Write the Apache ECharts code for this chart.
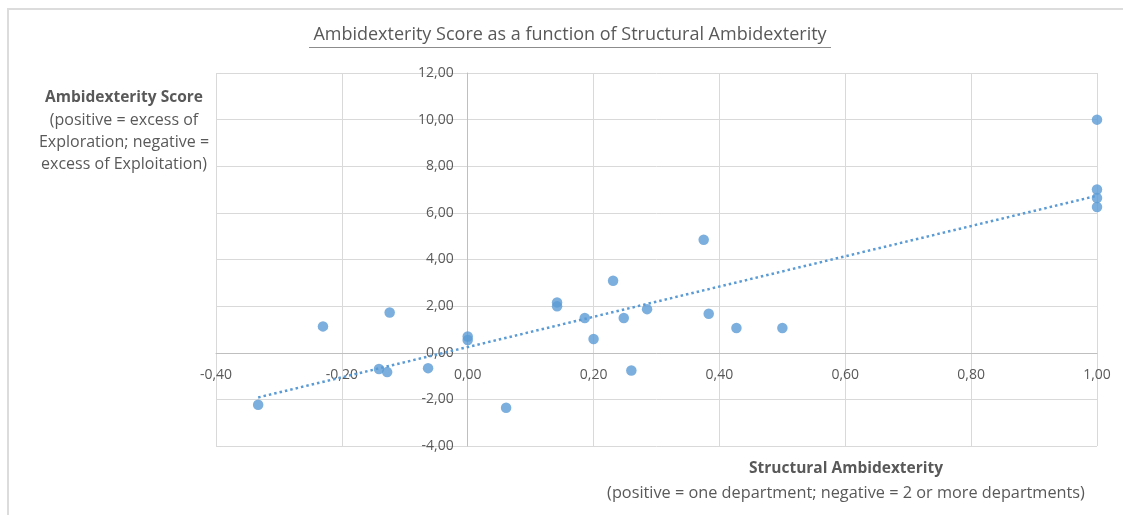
<!DOCTYPE html>
<html>
<head>
<meta charset="utf-8">
<script src="https://cdn.jsdelivr.net/npm/echarts@6/dist/echarts.min.js"></script>
<style>
  html, body { margin: 0; padding: 0; background: #ffffff; }
  #chart { width: 1123px; height: 515px; }
</style>
</head>
<body>
<div id="chart"></div>
<script>
// Structural ambidexterity (x) vs. ambidexterity score (y), one point per firm
const structural = [
  -0.333, -0.230, -0.124, -0.141, -0.128, -0.063, 0.000, 0.000, 0.061,
  0.142, 0.142, 0.186, 0.200, 0.231, 0.248, 0.260, 0.285, 0.375, 0.383,
  0.427, 0.500, 1.000, 1.000, 1.000, 1.000
];
const score = [
  -2.23, 1.13, 1.73, -0.70, -0.83, -0.66, 0.55, 0.70, -2.36,
  2.16, 1.99, 1.49, 0.59, 3.09, 1.49, -0.76, 1.87, 4.85, 1.67,
  1.06, 1.06, 10.00, 7.00, 6.64, 6.25
];

const titleText = 'Ambidexterity Score as a function of Structural Ambidexterity';
const yNameLines = ['Ambidexterity Score', '(positive = excess of', 'Exploration; negative =', 'excess of Exploitation)'];
const xNameLines = ['Structural Ambidexterity', '(positive = one department; negative = 2 or more departments)'];

const points = structural.map((x, i) => [x, score[i]]);

// Ordinary least-squares linear trend across the observed x range
function linearTrend(xs, ys) {
  const n = xs.length;
  const mx = xs.reduce((a, b) => a + b, 0) / n;
  const my = ys.reduce((a, b) => a + b, 0) / n;
  let sxy = 0, sxx = 0;
  for (let i = 0; i < n; i++) {
    sxy += (xs[i] - mx) * (ys[i] - my);
    sxx += (xs[i] - mx) * (xs[i] - mx);
  }
  const slope = sxy / sxx;
  const icpt = my - slope * mx;
  const x0 = Math.min(...xs), x1 = Math.max(...xs);
  return [[x0, icpt + slope * x0], [x1, icpt + slope * x1]];
}
const trend = linearTrend(structural, score);

const FONT = '"Open Sans", "Liberation Sans", sans-serif';
const TXT = '#595959';
const comma = v => v.toFixed(2).replace('.', ',');

const chart = echarts.init(document.getElementById('chart'), null, { renderer: 'canvas' });
chart.setOption({
  backgroundColor: '#ffffff',
  animation: false,
  textStyle: { fontFamily: FONT },
  grid: { left: 216, right: 26, top: 73, bottom: 69, containLabel: false },
  xAxis: {
    type: 'value', min: -0.4, max: 1.0, interval: 0.2, position: 'bottom',
    axisLine: { onZero: false, lineStyle: { color: '#bfbfbf', width: 1 } },
    axisTick: { show: false },
    axisLabel: { formatter: comma, color: TXT, fontSize: 14, fontFamily: FONT, margin: 15 },
    splitLine: { show: true, lineStyle: { color: '#d9d9d9', width: 1 } }
  },
  yAxis: {
    type: 'value', min: -4, max: 12, interval: 2, position: 'left',
    axisLine: { show: true, onZero: false, lineStyle: { color: '#bfbfbf', width: 1 } },
    axisTick: { show: false },
    axisLabel: { formatter: comma, color: TXT, fontSize: 14, fontFamily: FONT, margin: 14 },
    splitLine: { show: true, lineStyle: { color: '#d9d9d9', width: 1 } }
  },
  series: [
    {
      type: 'line', data: trend, showSymbol: false, symbol: 'none',
      lineStyle: { color: '#5b9bd5', width: 2.5, type: [2.5, 3] },
      z: 3, silent: true
    },
    {
      type: 'scatter', data: points, symbol: 'circle', symbolSize: 10.5,
      itemStyle: { color: '#5b9bd5' }, z: 4
    }
  ],
  graphic: [
    // chart frame edges
    { type: 'line', shape: { x1: 7, y1: 9, x2: 1123, y2: 9 }, style: { stroke: '#dcdcdc', lineWidth: 2 } },
    { type: 'line', shape: { x1: 8, y1: 9, x2: 8, y2: 515 }, style: { stroke: '#dcdcdc', lineWidth: 2 } },
    // title with underline
    {
      type: 'text', x: 570, y: 26,
      style: { text: titleText, fill: TXT, font: '18px ' + FONT, textAlign: 'center' }
    },
    { type: 'line', shape: { x1: 309, y1: 47.5, x2: 831, y2: 47.5 }, style: { stroke: '#8c8c8c', lineWidth: 1 } },
    // y axis name block
    {
      type: 'text', x: 124, y: 87,
      style: {
        text: '{b|' + yNameLines[0] + '}\n' + yNameLines.slice(1).join('\n'),
        fill: TXT, font: '16px ' + FONT, textAlign: 'center', lineHeight: 22,
        rich: { b: { fontWeight: 'bold', fontSize: 15.5, fontFamily: FONT, fill: TXT, lineHeight: 22 } }
      }
    },
    // x axis name block
    {
      type: 'text', x: 846, y: 456,
      style: {
        text: '{b|' + xNameLines[0] + '}\n' + xNameLines[1],
        fill: TXT, font: '16.3px ' + FONT, textAlign: 'center', lineHeight: 25,
        rich: { b: { fontWeight: 'bold', fontSize: 15.5, fontFamily: FONT, fill: TXT, lineHeight: 25 } }
      }
    }
  ]
});

// Both axes cross at the origin: shift each axis (line and labels) onto the zero of the other
const origin = chart.convertToPixel({ gridIndex: 0 }, [0, 0]);
const gridRect = { left: 216, bottom: 515 - 69 };
chart.setOption({
  xAxis: { offset: origin[1] - gridRect.bottom },
  yAxis: { offset: gridRect.left - origin[0] }
});
</script>
</body>
</html>
